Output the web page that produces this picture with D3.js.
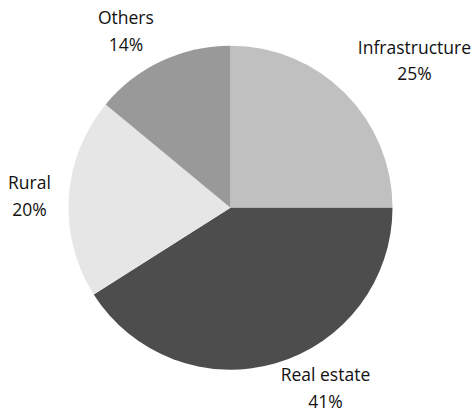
<!DOCTYPE html>
<html>
<head>
<meta charset="utf-8">
<script src="https://cdn.jsdelivr.net/npm/d3@7"></script>
<style>
  html, body { margin: 0; padding: 0; background: #fff; }
  svg { display: block; }
  text { font-family: "Open Sans", "DejaVu Sans", sans-serif; font-size: 17.5px; fill: #111; }
</style>
</head>
<body>
<svg id="chart" width="475" height="412"></svg>
<script>
// Loan portfolio shares, clockwise from 12 o'clock
const categories = ["Infrastructure", "Real estate", "Rural", "Others"];
const shares = [25, 41, 20, 14];
const colors = ["#c0c0c0", "#4d4d4d", "#e6e6e6", "#999999"];

const width = 475, height = 412;
const cx = 230.5, cy = 207.7, radius = 162;
const fontSize = 17.5;
const capHeight = fontSize * 0.714;
const lineGap = 26.7;   // distance between name and percentage baselines
const labelGap = 18;    // clearance between pie rim and nearest label corner
const minTop = 11.7, maxBottom = 407.6; // vertical limits for label blocks

const svg = d3.select("#chart");
const g = svg.append("g").attr("transform", `translate(${cx},${cy})`);

const data = categories.map((c, i) => ({ name: c, value: shares[i], color: colors[i] }));

const pie = d3.pie().value(d => d.value).sort(null);
const arc = d3.arc().innerRadius(0).outerRadius(radius);
const arcs = pie(data);

g.selectAll("path.slice")
  .data(arcs)
  .join("path")
  .attr("class", "slice")
  .attr("d", arc)
  .attr("fill", d => d.data.color);

// Which side of the anchor point a label block sits on, per axis
const side = v => Math.sign(v) * Math.max(0, Math.min(1, (Math.abs(v) - 0.07) / 0.2));

const labels = svg.selectAll("g.label")
  .data(arcs)
  .join("g")
  .attr("class", "label");

labels.each(function (d) {
  const sel = d3.select(this);
  const t1 = sel.append("text").attr("text-anchor", "middle").attr("y", 0).text(d.data.name);
  const t2 = sel.append("text").attr("text-anchor", "middle").attr("y", lineGap).text(d.data.value + "%");
  const w = Math.max(t1.node().getComputedTextLength(), t2.node().getComputedTextLength());
  const h = capHeight + lineGap; // cap top of first line to last baseline

  const mid = (d.startAngle + d.endAngle) / 2;
  const dx = Math.sin(mid), dy = -Math.cos(mid);
  const px = cx + dx * (radius + labelGap), py = cy + dy * (radius + labelGap);
  const boxCx = px + side(dx) * w / 2;
  let top = py + side(dy) * h / 2 - h / 2;
  top = Math.max(minTop, Math.min(maxBottom - h, top));
  sel.attr("transform", `translate(${boxCx},${top + capHeight})`);
});
</script>
</body>
</html>
